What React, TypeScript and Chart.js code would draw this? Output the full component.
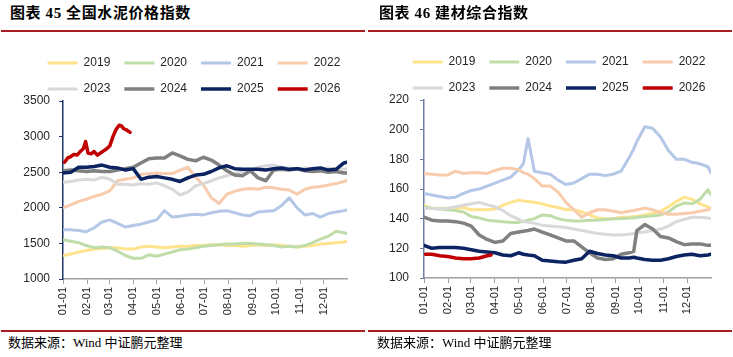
import React, { useEffect, useRef } from "react";
import { Chart, registerables } from "chart.js";

Chart.register(...registerables);
Chart.defaults.font.family = '"Liberation Sans", Arial, sans-serif';

const YEARS = ["2019", "2020", "2021", "2022", "2023", "2024", "2025", "2026"];
const LINE_COLORS = ["#FFE38C", "#C0DDA9", "#B4C7E7", "#F8CBAD", "#D9D9D9", "#808080", "#0B2360", "#C00000"];
const LINE_WIDTHS = [3, 3, 3, 3, 3, 3.5, 3.5, 3.5];

const MONTH_DAYS = [0, 31, 59, 90, 120, 151, 181, 212, 243, 273, 304, 334];
const MONTH_LABELS = ["01-01", "02-01", "03-01", "04-01", "05-01", "06-01", "07-01", "08-01", "09-01", "10-01", "11-01", "12-01"];

// 图表45 全国水泥价格指数
const CEMENT_DAYS = [0, 10, 20, 30, 40, 50, 60, 70, 80, 90, 100, 110, 120, 130, 140, 150, 160, 170, 180, 190, 200, 210, 220, 230, 240, 250, 260, 270, 280, 290, 300, 310, 320, 330, 340, 350, 360, 364];
const CEMENT_2019 = [1330, 1350, 1380, 1400, 1420, 1430, 1440, 1440, 1420, 1420, 1450, 1460, 1450, 1440, 1450, 1460, 1460, 1470, 1470, 1480, 1480, 1470, 1470, 1460, 1470, 1480, 1470, 1480, 1470, 1460, 1450, 1460, 1470, 1490, 1500, 1510, 1520, 1530];
const CEMENT_2020 = [1550, 1530, 1510, 1470, 1440, 1450, 1440, 1390, 1330, 1290, 1290, 1340, 1320, 1350, 1380, 1410, 1420, 1440, 1460, 1470, 1480, 1490, 1490, 1500, 1500, 1490, 1480, 1470, 1450, 1460, 1450, 1470, 1510, 1560, 1600, 1670, 1650, 1640];
const CEMENT_2021 = [1690, 1690, 1680, 1665, 1720, 1800, 1830, 1780, 1730, 1750, 1770, 1800, 1830, 1960, 1870, 1880, 1900, 1910, 1900, 1930, 1950, 1960, 1930, 1900, 1890, 1940, 1950, 1960, 2030, 2140, 2000, 1900, 1920, 1870, 1920, 1940, 1960, 1970];
const CEMENT_2022 = [2000, 2040, 2090, 2120, 2160, 2190, 2240, 2380, 2400, 2420, 2470, 2480, 2490, 2480, 2480, 2530, 2570, 2430, 2320, 2140, 2060, 2190, 2230, 2260, 2270, 2260, 2290, 2280, 2260, 2250, 2190, 2260, 2290, 2300, 2320, 2340, 2370, 2380];
const CEMENT_2023 = [2360, 2370, 2390, 2400, 2390, 2430, 2400, 2330, 2330, 2320, 2340, 2330, 2350, 2310, 2260, 2180, 2220, 2310, 2340, 2380, 2420, 2450, 2480, 2510, 2530, 2570, 2590, 2600, 2570, 2560, 2550, 2560, 2550, 2540, 2560, 2550, 2540, 2550];
const CEMENT_2024 = [2520, 2530, 2520, 2510, 2520, 2510, 2510, 2530, 2550, 2570, 2630, 2690, 2700, 2700, 2770, 2730, 2680, 2660, 2710, 2670, 2600, 2520, 2460, 2450, 2520, 2420, 2380, 2530, 2540, 2530, 2550, 2520, 2510, 2520, 2500, 2510, 2490, 2490];
const CEMENT_2025 = [2490, 2500, 2570, 2570, 2580, 2600, 2570, 2560, 2530, 2550, 2400, 2430, 2440, 2420, 2400, 2370, 2420, 2460, 2470, 2510, 2560, 2590, 2550, 2540, 2540, 2540, 2530, 2550, 2560, 2540, 2550, 2530, 2550, 2560, 2530, 2540, 2630, 2640];
const CEMENT_2026_DAYS = [2, 6, 10, 14, 18, 22, 26, 29, 32, 36, 40, 44, 48, 52, 56, 60, 64, 68, 72, 75, 78, 82, 86];
const CEMENT_2026 = [2640, 2700, 2720, 2750, 2740, 2790, 2830, 2930, 2770, 2760, 2790, 2740, 2770, 2800, 2830, 2870, 3000, 3100, 3160, 3150, 3110, 3090, 3060];

// 图表46 建材综合指数
const BM_DAYS = [0, 10, 20, 30, 40, 50, 60, 70, 80, 90, 100, 110, 120, 126, 132, 140, 150, 160, 170, 180, 190, 200, 210, 220, 230, 240, 250, 260, 266, 270, 280, 290, 300, 310, 320, 330, 340, 350, 360, 364];
const BM_2019 = [149, 147, 147, 147, 147, 147.5, 146, 146, 146, 146.5, 149, 151, 152.5, 152, 151.5, 151, 150, 148.5, 147.5, 146, 146, 144.5, 142.5, 140.5, 140, 140, 141, 141, 141.5, 141.5, 142.5, 143.5, 145, 148, 151.5, 154.5, 153, 150, 148, 147];
const BM_2020 = [148, 147, 146.5, 146, 145.5, 144.5, 141.5, 140.5, 139, 138.5, 138, 137.5, 137.5, 138, 139, 140, 142.5, 142, 140, 139, 138.5, 138.5, 139, 139, 139.5, 140, 140, 140.5, 140.5, 141, 141.5, 142, 142.5, 144.5, 148.5, 150.5, 150, 153, 159.5, 156];
const BM_2021 = [157, 156, 155, 154, 154.5, 157, 159, 160, 162, 164, 166, 168, 173, 177, 194, 172, 171, 170, 166, 163, 164, 167, 170, 170, 169, 170, 172, 181, 187, 192, 202, 201, 195, 186, 180, 180, 178, 177, 175, 171];
const BM_2022 = [170.5, 170, 169.5, 169.5, 172, 170.5, 171, 171, 170.5, 172.5, 174, 174, 173, 171, 170, 167, 162, 162, 158, 151, 146, 141, 144, 146, 146, 145, 144, 145, 145.5, 146, 147, 146, 144, 143, 143, 143.5, 144, 145, 146, 147];
const BM_2023 = [147, 147, 146.5, 147, 148, 149, 150, 151, 149.5, 148, 145.5, 142, 139.5, 138, 137.5, 137, 135.5, 135, 134.5, 134, 133, 132, 131, 130, 129.5, 129, 129, 129.5, 130, 130.5, 131, 132, 133, 135, 138, 139.5, 141, 141, 140.5, 140];
const BM_2024 = [141, 139, 138.5, 138.5, 138, 137, 135, 129, 126, 124, 125, 130, 131, 131.5, 132, 133, 131, 129, 127, 125, 125, 121, 117, 113.5, 112.5, 113, 116, 117, 118, 132, 136, 133, 128, 127, 124.5, 122.5, 123, 123, 122, 122];
const BM_2025 = [122, 120, 120.5, 120.5, 120.5, 120, 119, 118, 117.5, 117, 115.5, 115, 117, 116, 115.5, 115, 112, 111.5, 111, 110.7, 112, 113, 118, 116.5, 115.5, 115, 113.5, 113.5, 114, 113.5, 112.5, 112, 112, 113, 114.5, 115.5, 116, 115, 115.5, 116];
const BM_2026_DAYS = [2, 10, 20, 30, 40, 50, 60, 70, 80, 85];
const BM_2026 = [116, 116, 115, 114.5, 113.5, 113, 113, 113.5, 115, 115.5];

const RULE_COLOR = "#A81E23";
const TEXT_COLOR = "#262626";

type ChartProps = {
  days: number[];
  series: number[][];
  lastDays: number[];
  last: number[];
  yMin: number;
  yMax: number;
  yStep: number;
  width: number;
  padTop: number;
  yWidth: number;
  rightWidth: number;
  xHeight: number;
  tickPad: number;
  yAxisColor: string;
};

function LineChart(p: ChartProps) {
  const ref = useRef<HTMLCanvasElement>(null);
  useEffect(() => {
    const canvas = ref.current;
    if (!canvas) return;
    const datasets = YEARS.map((year, i) => {
      const isLast = i === YEARS.length - 1;
      const xs = isLast ? p.lastDays : p.days;
      const ys = isLast ? p.last : p.series[i];
      return {
        label: year,
        data: xs.map((d, k) => ({ x: d, y: ys[k] })),
        borderColor: LINE_COLORS[i],
        backgroundColor: LINE_COLORS[i],
        pointBorderColor: LINE_COLORS[i],
        pointBackgroundColor: LINE_COLORS[i],
        borderWidth: LINE_WIDTHS[i],
        pointBorderWidth: LINE_WIDTHS[i],
        pointRadius: 0,
        pointHoverRadius: 0,
        tension: 0,
        fill: false,
        borderJoinStyle: "round" as const,
        borderCapStyle: "round" as const,
        order: YEARS.length - 1 - i,
      };
    });
    const chart = new Chart(canvas, {
      type: "line",
      data: { datasets },
      options: {
        animation: false,
        responsive: false,
        maintainAspectRatio: false,
        events: [],
        layout: { padding: { left: 0, top: p.padTop, right: 0, bottom: 0 } },
        plugins: {
          legend: {
            position: "top",
            align: "center",
            maxHeight: 58,
            labels: {
              usePointStyle: true,
              pointStyle: "line",
              pointStyleWidth: 30,
              padding: 14,
              color: TEXT_COLOR,
              font: { size: 12 },
              sort: (a: any, b: any) => a.datasetIndex - b.datasetIndex,
            },
          } as any,
          tooltip: { enabled: false },
        },
        scales: {
          x: {
            type: "linear",
            min: 0,
            max: 364,
            afterBuildTicks: (s: any) => {
              s.ticks = MONTH_DAYS.map((v) => ({ value: v }));
            },
            afterFit: (s: any) => {
              s.height = p.xHeight;
            },
            ticks: {
              autoSkip: false,
              minRotation: 90,
              maxRotation: 90,
              padding: 3,
              color: TEXT_COLOR,
              font: { size: 11 },
              callback: (_v: any, i: number) => MONTH_LABELS[i],
            },
            grid: { display: true, drawOnChartArea: false, drawTicks: true, tickLength: 5, color: "#A0A0A0", lineWidth: 1 },
            border: { display: true, color: "#A0A0A0", width: 1.5 },
          },
          y: {
            type: "linear",
            position: "left",
            min: p.yMin,
            max: p.yMax,
            afterFit: (s: any) => {
              s.width = p.yWidth;
            },
            ticks: {
              stepSize: p.yStep,
              padding: p.tickPad,
              color: TEXT_COLOR,
              font: { size: 12 },
              callback: (v: any) => String(v),
            },
            grid: { display: true, drawOnChartArea: false, drawTicks: true, tickLength: 4, color: p.yAxisColor, lineWidth: 1 },
            border: { display: true, color: p.yAxisColor, width: 1.5 },
          },
          pad: {
            type: "linear",
            position: "right",
            display: true,
            afterFit: (s: any) => {
              s.width = p.rightWidth;
            },
            grid: { display: false },
            border: { display: false },
            ticks: { display: false },
          },
        },
      } as any,
    });
    return () => chart.destroy();
  }, []);
  return (
    <canvas
      ref={ref}
      width={p.width}
      height={277}
      style={{ position: "absolute", left: 0, top: 38, width: p.width, height: 277 }}
    />
  );
}

type PanelProps = {
  x: number;
  width: number;
  textLeft: number;
  ruleLeft: number;
  ruleWidth: number;
  titleNum: string;
  titleText: string;
  children: React.ReactNode;
};

function Panel(p: PanelProps) {
  return (
    <div style={{ position: "absolute", left: p.x, top: 0, width: p.width, height: 357 }}>
      <div
        style={{
          position: "absolute",
          left: p.textLeft,
          top: 5,
          fontSize: 15,
          lineHeight: "17px",
          fontWeight: "bold",
          letterSpacing: "0.6px",
          whiteSpace: "nowrap",
          color: "#000",
          fontFamily: '"Liberation Serif", "Times New Roman", "Noto Sans CJK SC", serif',
        }}
      >
        {"图表 " + p.titleNum + " " + p.titleText}
      </div>
      <div style={{ position: "absolute", left: p.ruleLeft, top: 30, width: p.ruleWidth, height: 2, background: RULE_COLOR }} />
      {p.children}
      <div style={{ position: "absolute", left: p.ruleLeft, top: 330, width: p.ruleWidth, height: 2, background: RULE_COLOR }} />
      <div
        style={{
          position: "absolute",
          left: p.textLeft - 2,
          top: 335,
          fontSize: 13,
          lineHeight: "16px",
          whiteSpace: "nowrap",
          color: "#000",
          fontFamily: '"Liberation Serif", "Times New Roman", "Noto Sans CJK SC", serif',
        }}
      >
        数据来源：Wind 中证鹏元整理
      </div>
    </div>
  );
}

export default function App() {
  return (
    <div style={{ position: "absolute", left: 0, top: 0, width: 733, height: 357, background: "#fff", overflow: "hidden" }}>
      <Panel x={0} width={366} textLeft={10} ruleLeft={1} ruleWidth={364} titleNum="45" titleText="全国水泥价格指数">
        <LineChart
          days={CEMENT_DAYS}
          series={[CEMENT_2019, CEMENT_2020, CEMENT_2021, CEMENT_2022, CEMENT_2023, CEMENT_2024, CEMENT_2025]}
          lastDays={CEMENT_2026_DAYS}
          last={CEMENT_2026}
          yMin={1000}
          yMax={3500}
          yStep={500}
          width={388}
          padTop={5}
          yWidth={63}
          rightWidth={41}
          xHeight={36}
          tickPad={9}
          yAxisColor="#1F3468"
        />
      </Panel>
      <Panel x={366} width={367} textLeft={13} ruleLeft={2} ruleWidth={364} titleNum="46" titleText="建材综合指数">
        <LineChart
          days={BM_DAYS}
          series={[BM_2019, BM_2020, BM_2021, BM_2022, BM_2023, BM_2024, BM_2025]}
          lastDays={BM_2026_DAYS}
          last={BM_2026}
          yMin={100}
          yMax={220}
          yStep={20}
          width={386}
          padTop={4}
          yWidth={58}
          rightWidth={41}
          xHeight={37}
          tickPad={11}
          yAxisColor="#6F7F9F"
        />
      </Panel>
    </div>
  );
}
